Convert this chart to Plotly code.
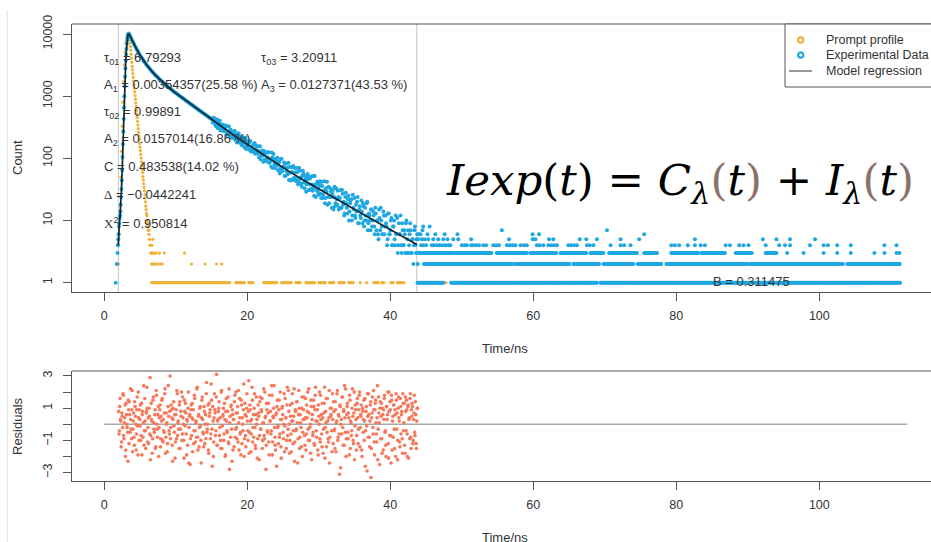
import numpy as np
import plotly.graph_objects as go

W, H = 931, 542

# ---------------- data ----------------
# Experimental data: rising edge (time ns, counts)
exp_rise_t = [1.60, 1.75, 1.85, 1.90, 1.95, 2.00, 2.05, 2.10, 2.15, 2.20, 2.25, 2.30,
              2.35, 2.40, 2.45, 2.50, 2.55, 2.60, 2.65, 2.70, 2.75, 2.80, 2.85, 2.90,
              2.95, 3.00, 3.05, 3.10, 3.15, 3.20, 3.25, 3.30, 3.35, 3.40, 3.45, 3.50]
exp_rise_counts = [1, 2, 3, 4, 5, 6, 8, 9, 11, 12, 14, 18,
                   24, 32, 44, 65, 105, 170, 270, 430, 660, 1000, 1450, 2050,
                   2800, 3700, 4700, 5800, 6900, 7900, 8800, 9500, 9950, 10150, 10050, 9750]

# Experimental data: decay, one value per time channel
exp_channel_start = 3.55
exp_channel_width = 0.15
exp_decay_counts = [
    9550, 8800, 8050, 7450, 6900, 6350, 5900, 5480, 5150, 4780, 4480, 4200, 3960, 3720,
    3500, 3330, 3140, 3000, 2860, 2740, 2600, 2480, 2380, 2270, 2180, 2100, 2010, 1930,
    1860, 1780, 1720, 1660, 1600, 1550, 1500, 1440, 1390, 1350, 1320, 1270, 1230, 1180,
    1160, 1120, 1090, 1060, 1030, 1000, 970, 940, 915, 890, 860, 840, 815, 790, 765, 745,
    725, 700, 685, 665, 645, 625, 605, 590, 575, 555, 540, 525, 510, 500, 485, 470, 455,
    445, 430,
    444, 379, 441, 342, 372, 308, 372, 401, 317, 282,
    344, 297, 310, 238, 328, 251, 263, 291, 215, 251,
    213, 276, 216, 180, 235, 211, 176, 227, 176, 203,
    151, 216, 169, 148, 176, 184, 129, 157, 138, 173,
    119, 152, 120, 130, 157, 97, 127, 110, 131, 96,
    122, 97, 124, 85, 99, 73, 102, 118, 82, 70,
    99, 78, 86, 57, 98, 65, 71, 86, 52, 70,
    55, 85, 58, 44, 71, 60, 45, 70, 47, 60,
    38, 70, 47, 39, 52, 57, 33, 46, 38, 56,
    31, 47, 32, 38, 52, 25, 38, 31, 42, 26,
    39, 27, 42, 23, 30, 19, 33, 42, 24, 19,
    33, 24, 27, 15, 35, 19, 22, 30, 15, 23,
    16, 31, 18, 12, 24, 19, 13, 25, 14, 21,
    10, 26, 15, 12, 18, 20, 9, 15, 12, 21,
    9, 17, 10, 12, 19, 7, 13, 10, 15, 8,
    14, 8, 16, 7, 10, 5, 11, 16, 8, 6,
    12, 8, 9, 4, 13, 6, 7, 11, 4, 8,
    5, 12, 6, 3, 9, 6, 4, 9, 4, 7,
    3, 10, 5, 3, 6, 7, 3, 5, 4, 8,
    3, 6, 3]

# second (interleaved) set of decay channels in the noisy part of the curve
exp_channel_start_b = 15.175
exp_decay_counts_b = [
    378, 440, 388, 327, 420, 341, 373, 281, 342, 351,
    275, 299, 337, 258, 270, 324, 220, 274, 233, 250,
    272, 198, 243, 205, 254, 186, 205, 162, 216, 177,
    192, 141, 191, 166, 138, 190, 140, 157, 127, 175,
    124, 158, 133, 104, 155, 114, 134, 88, 120, 127,
    90, 103, 125, 85, 92, 124, 70, 99, 79, 89,
    102, 64, 89, 70, 99, 62, 74, 52, 82, 62,
    71, 45, 73, 60, 46, 75, 49, 59, 43, 70,
    43, 63, 49, 35, 63, 41, 52, 29, 46, 51,
    31, 38, 51, 30, 34, 52, 24, 39, 29, 35,
    43, 23, 36, 26, 43, 23, 29, 18, 35, 24,
    29, 16, 31, 24, 17, 33, 18, 24, 16, 31,
    16, 27, 20, 13, 28, 16, 22, 10, 19, 22,
    12, 16, 23, 11, 14, 24, 9, 17, 11, 14,
    19, 8, 16, 10, 20, 9, 12, 7, 15, 10,
    12, 6, 13, 10, 6, 15, 7, 10, 6, 14,
    6, 12, 8, 5, 13, 6, 10, 4, 8, 10,
    4, 6, 11, 4, 6, 12, 3, 7, 4, 6,
    9, 3, 7, 4, 9, 3, 5, 2, 7, 4,
    5, 2, 6]

# Experimental data after the fit window: rows of low integer counts
row_channel_width = 0.15
exp_level1_runs = [(43.8, 47.4), (48.5, 68.9), (69.4, 90.4), (90.9, 111.3)]
exp_level2_runs = [(44.7, 57.0), (57.4, 65.1), (65.6, 69.3), (69.8, 74.1), (74.6, 77.9),
                   (78.6, 90.0), (90.4, 103.4), (103.9, 111.3)]
exp_level3_runs = [(44.1, 48.9), (49.2, 54.2), (54.9, 59.1), (59.6, 63.3), (63.8, 67.5),
                   (68.0, 69.8), (70.6, 74.5), (75.5, 77.4), (79.3, 83.1), (83.5, 86.9),
                   (88.3, 90.6), (92.5, 94.0)]
exp_level3_t = [95.5, 97.8, 100.6, 102.5, 104.4, 107.7, 109.1, 110.8, 111.2]
exp_level4_t = [44.3, 44.6, 45.0, 45.8, 46.1, 46.5, 46.9, 47.3, 47.7, 48.1, 48.4, 50.0,
                50.4, 50.7, 51.3, 51.6, 52.0, 52.4, 53.0, 53.4, 54.4, 54.8, 55.2, 56.3,
                56.7, 57.1, 57.5, 58.2, 58.7, 59.1, 60.5, 60.9, 61.4, 62.1, 62.5, 62.9,
                63.3, 64.9, 65.3, 65.7, 66.1, 67.5, 67.9, 68.4, 70.8, 72.2, 72.7, 73.6,
                79.3, 79.8, 80.4, 81.6, 82.6, 83.4, 84.0, 86.9, 87.5, 88.8, 89.4, 90.1,
                92.5, 94.4, 95.2, 95.9, 98.7, 100.6, 101.2, 102.5, 104.4, 109.1, 110.8]
exp_level5_t = [43.9, 44.4, 44.8, 45.3, 46.0, 46.7, 47.4, 48.0, 48.8, 49.5, 51.3, 56.6,
                59.9, 60.3, 62.2, 62.8, 66.5, 67.4, 68.9, 72.2, 74.8, 82.6, 92.1, 94.0,
                95.9, 99.4]
exp_level6_t = [44.2, 45.2, 46.3, 47.6, 49.4, 59.9, 60.8, 75.5]
exp_level7_t = [44.5, 55.6, 70.3]
exp_level8_t = [44.6, 45.5]

# Prompt profile (time ns, counts)
prompt_t = [2.0, 2.1, 2.2, 2.3, 2.4, 2.5, 2.6, 2.7, 2.8, 2.9, 3.0, 3.1, 3.2, 3.3, 3.35, 3.40,
            3.45, 3.50, 3.55, 3.60, 3.65, 3.70, 3.75, 3.80, 3.85, 3.90, 3.95, 4.00, 4.05,
            4.10, 4.15, 4.20, 4.25, 4.30, 4.35, 4.40, 4.45, 4.50, 4.55, 4.60, 4.65, 4.70,
            4.75, 4.80, 4.85, 4.90, 4.95, 5.00, 5.05, 5.10, 5.15, 5.20, 5.25, 5.30, 5.35,
            5.40, 5.45, 5.50, 5.55, 5.60, 5.65, 5.70, 5.75, 5.80, 5.85, 5.90, 5.95, 6.00,
            6.05, 6.10, 6.15, 6.20, 6.25, 6.30, 6.35, 6.40, 6.45, 6.50]
prompt_counts = [2, 6, 18, 50, 130, 330, 800, 1700, 3200, 5200, 7200, 8700, 9600, 9950, 10050, 10000,
                 9660, 9020, 8130, 7240, 6310, 5500, 4730, 4070, 3510, 3020, 2640, 2300, 2010,
                 1750, 1530, 1340, 1170, 1020, 889, 776, 678, 592, 516, 451, 394, 344,
                 300, 262, 229, 200, 174, 152, 133, 116, 101, 88, 77, 67, 59,
                 51, 45, 39, 34, 30, 26, 23, 20, 17, 15, 13, 12, 10,
                 9, 8, 7, 7, 6, 5, 5, 4, 4, 3]
prompt_low_t = [6.55, 6.60, 6.65, 6.70, 6.75, 6.80, 6.85, 6.90, 7.00, 7.05, 7.15, 7.25,
                7.40, 7.55, 7.70, 7.90, 8.10, 8.40, 11.2, 12.2, 14.1, 15.7, 16.4]
prompt_low_counts = [3, 2, 4, 3, 2, 5, 3, 2, 3, 2, 2, 3,
                     2, 2, 3, 2, 2, 3, 3, 2, 2, 2, 2]
prompt_level1_runs = [(6.6, 17.6), (18.4, 19.6), (20.2, 20.9), (22.3, 24.2), (24.8, 26.2),
                      (26.8, 27.5), (28.2, 29.4), (30.0, 30.9), (31.5, 32.1), (32.8, 33.6),
                      (34.2, 34.9), (37.7, 38.3), (38.8, 39.1), (40.1, 40.5), (41.0, 41.9)]
prompt_level1_t = [35.8, 36.7, 47.8]

# Model regression curve (time ns, counts)
model_t = [1.96, 2.0, 2.1, 2.2, 2.3, 2.4, 2.5, 2.6, 2.7, 2.8, 2.9, 3.0, 3.1, 3.2, 3.3, 3.4,
           3.5, 3.6, 3.8, 4.0, 4.5, 5.0, 5.5, 6.0, 7.0, 8.0, 9.0, 10.0, 11.0, 12.0, 13.0,
           14.0, 15.0, 16.0, 17.0, 18.0, 19.0, 20.0, 22.0, 24.0, 26.0, 28.0, 30.0, 32.0,
           34.0, 36.0, 38.0, 40.0, 42.0, 43.7]
model_counts = [4, 6, 9, 12, 18, 32, 65, 170, 430, 1000, 2050, 3700, 5800, 7900, 9500, 10150,
                9800, 9330, 8320, 7413, 5754, 4571, 3715, 3090, 2265, 1738, 1380, 1122, 923, 759, 624,
                509, 417, 347, 288, 240, 200, 168, 119, 84, 60, 43.7, 32, 23.7,
                17.6, 13, 9.7, 7.2, 5.3, 4.1]

# Residuals: two interleaved sets, one per 0.1 ns channel
resid_step = 0.1
resid_start_a = 2.0
residuals_a = [
    0.8, -0.4, 1.6, 0.2, -1.1, 0.5, 1.9, -0.7, 0.1, 1.2, -1.6, 0.6, -0.2, -2.3, 0.9, 1.4, -0.5, 0.3, -0.9, 2.1,
    -0.3, 0.7, -1.3, 1.1, 0.0, -0.6, 1.7, -1.9, 0.4, 0.9, -0.1, -1.0, 1.3, 0.6, -0.8, 2.4, -0.4, 0.2, -1.5, 0.8,
    1.0, -0.2, -1.2, 0.5, 2.9, -0.7, 0.3, -1.8, 1.5, 0.1, -0.5, 0.9, -1.4, 1.8, -0.3, 0.6, -2.0, 0.4, 1.2, -0.9,
    0.2, 1.6, -1.1, -0.4, 0.7, 2.2, -0.8, 0.0, -1.7, 1.1, 0.5, -0.6, 3.0, -0.2, 0.9, -1.3, 0.3, 1.4, -0.5, -2.1,
    0.6, -0.9, 1.9, 0.1, -0.3, 1.2, -1.5, 0.8, 2.0, -0.6, 0.4, -1.0, 1.5, -0.1, 0.7, -1.9, 0.2, 1.0, -2.4, 0.5,
    -2.5, 0.9, -0.7, 1.3, 0.3, -1.2, 1.8, -0.4, 0.1, -0.8, 2.3, -1.6, 0.6, -0.2, 1.1, -1.0, 0.4, 1.7, -0.5, -1.4,
    0.8, 0.0, -0.9, 2.6, -0.3, 1.2, -1.8, 0.5, 0.9, -0.6, 1.5, -2.6, 0.2, -1.1, 1.9, 0.7, -0.4, 3.1, -1.3, 0.3,
    1.0, -0.7, 0.4, -1.5, 2.1, -0.1, 0.6, -1.0, 1.3, -2.0, 0.8, 0.2, -0.5, 1.7, -1.2, -2.8, 0.5, 1.1, -0.3, 0.9,
    -1.6, 0.3, 1.4, -0.8, 2.0, -0.2, 0.7, -1.1, 0.1, 1.6, -0.6, -1.9, 1.2, 0.4, -0.4, 2.5, -0.9, 0.6, -1.4, 1.0,
    0.2, -1.0, 2.7, -0.5, 0.9, -1.7, 0.3, 1.5, -0.2, -0.8, 1.9, -1.3, 0.6, 0.0, -2.1, 1.2, 0.5, -0.7, 1.7, -0.3,
    0.8, -1.5, 0.1, 2.2, -0.9, 0.4, -2.8, 1.3, -0.4, 0.7, -1.1, 1.8, 0.2, -0.6, 2.4, -1.9, 0.5, 1.0, -0.2, -1.3,
    0.6, -2.6, 1.5, -0.1, 0.9, -0.8, 2.0, -1.4, 0.3, 1.1, -0.5, 0.0, -1.7, 1.6, 0.4, -1.0, 2.3, -0.3, 0.8, -1.8,
    1.2, -0.6, 0.2, 1.9, -1.2, 0.5, -2.3, 0.9, -0.4, 1.4, 0.1, -0.9, 2.1, -1.5, 0.6, -0.2, 1.0, -2.0, 0.3, 1.7,
    -0.7, 0.4, -1.6, 1.2, 0.8, -0.3, 2.2, -1.0, 0.0, 1.5, -2.2, 0.6, -0.5, 1.1, -1.3, 1.8, 0.2, -0.8, 0.9, -1.9,
    0.5, 2.0, -1.1, 0.3, -0.6, 1.3, -1.8, 0.7, 2.3, -0.2, 0.1, -1.4, 1.6, -0.9, 0.4, -2.4, 1.0, 0.6, -0.4, 1.9,
    -1.2, 0.8, -0.3, 1.4, -1.7, 0.2, 2.1, -0.8, 0.5, -3.1, 1.1, 0.0, -0.6, 1.7, -1.3, 0.9, 2.4, -0.5, -2.0, 0.6,
    1.3, -0.9, 0.4, 1.8, -1.5, 0.1, -0.4, 2.2, -1.0, 0.7, -2.2, 1.2, 0.3, -0.7, 1.6, -1.2, 0.9, 2.0, -0.2, 0.5,
    -1.6, 1.0, -0.5, 1.5, 0.2, -2.6, 0.8, -0.1, 1.9, -0.8, 0.6, -1.4, 1.2, -3.3, 0.4, 1.7, -0.6, 0.9, -1.9, 1.3,
    0.1, -1.1, 2.4, -0.3, 0.7, -2.5, 1.4, 0.5, -0.9, 1.0, -1.6, 0.3, 1.8, -0.4, -2.0, 1.1, 0.6, -1.2, 2.0, -0.7,
    0.9, -2.4, 1.5, 0.2, -0.8, 1.2, -1.5, 0.6, 1.9, -0.3, -2.2, 1.0, 0.4, -1.1, 1.6, -0.6, 0.8, -1.8, 1.3, 0.1,
    -1.3, 1.7, -0.4, 0.9, -2.0, 1.2, 0.3, -0.9, 1.9, -1.5, 0.5, 1.1, -1.0, 0.7, -0.5, 1.4, -1.2, 0.2, 1.0]
resid_start_b = 2.05
residuals_b = [
    -0.6, 1.1, 0.3, -1.4, 0.7, -0.2, 1.8, -0.9, 0.4, -2.0, 1.3, 0.0, -0.5, 1.5, -1.2, 0.6, 2.2, -0.3, 0.9, -1.7,
    0.2, -0.8, 1.4, 0.5, -1.6, 0.9, -0.1, 2.0, -1.0, 0.3, 1.2, -0.7, -1.9, 0.8, 0.1, -1.3, 1.6, -0.4, 0.7, 2.3,
    -1.1, 0.4, 1.0, -0.6, -2.2, 1.3, 0.2, -0.9, 1.7, -0.3, 0.6, -1.5, 2.1, 0.0, -0.8, 1.1, -0.2, 0.9, -1.4, 0.5,
    1.5, -1.0, 0.3, -0.5, 1.9, -1.8, 0.7, 0.1, -1.2, 2.4, -0.4, 0.8, -0.9, 1.2, 0.4, -2.3, 1.0, -0.1, 0.6, -1.1,
    0.9, 2.1, -0.7, 0.2, -1.5, 1.4, -0.3, 0.5, -1.0, 1.7, 0.0, -2.1, 0.8, 1.3, -0.6, 0.3, -1.3, 2.0, -0.2, 0.6,
    -0.9, 1.2, 0.4, -1.7, 0.9, -0.4, 1.6, -1.1, 0.2, 2.2, -0.8, 0.5, -1.4, 1.0, -0.1, -2.4, 1.5, 0.3, -0.6, 1.1,
    -1.2, 0.6, 1.9, -0.5, 0.0, -1.6, 1.3, 0.7, -0.9, 2.5, -0.3, 1.1, -2.0, 0.4, 0.9, -0.7, 1.7, -1.3, 0.2, 0.8,
    1.4, -0.2, -1.0, 2.0, -1.5, 0.5, 1.0, -0.6, 0.3, -1.9, 1.6, -0.4, 0.8, -1.1, 2.2, 0.1, -0.8, 1.2, -2.3, 0.6,
    0.3, -1.4, 1.8, -0.3, 0.7, -0.9, 1.1, 2.1, -1.6, 0.4, -0.5, 1.5, -1.2, 0.0, 0.9, -2.0, 1.3, -0.7, 0.5, 1.9,
    -0.4, 0.8, -1.8, 1.2, 0.2, -0.6, 2.3, -1.1, 0.6, 1.0, -0.2, -1.5, 1.7, 0.3, -0.9, 0.7, -2.2, 1.4, -0.3, 0.9,
    1.6, -1.0, 0.1, -0.7, 2.0, 0.5, -1.3, 0.9, -0.5, 1.3, -1.9, 0.2, 0.8, -0.4, 1.8, -1.1, 0.4, 2.4, -0.8, -1.6,
    0.7, 1.1, -0.2, -1.2, 1.5, -0.6, 0.3, -2.1, 1.0, 0.6, -0.9, 1.9, -0.1, 0.4, -1.5, 1.2, -0.7, 2.1, 0.0, -1.0,
    0.5, -1.7, 1.3, 0.2, -0.4, 2.2, -1.1, 0.8, -0.3, 1.4, -2.4, 0.6, 1.0, -0.8, 0.1, -1.4, 1.7, -0.5, 0.9, 0.3,
    -1.3, 1.6, -0.6, 0.4, 2.0, -1.0, 0.7, -0.2, -1.8, 1.1, 0.3, -0.7, 1.5, -1.2, 0.9, 2.3, -0.4, 0.2, -1.6, 1.2,
    0.0, -0.9, 1.8, 0.6, -1.4, 0.4, -0.3, 1.3, -2.1, 0.8, 1.6, -0.5, 0.2, -1.1, 2.1, -0.8, 0.5, 1.0, -1.7, 0.3,
    1.4, -0.4, -1.5, 0.9, 0.1, 1.9, -1.0, 0.6, -0.6, 1.2, -2.7, 0.3, 1.7, -0.2, 0.8, -1.3, 0.4, 2.2, -0.9, 1.1,
    -0.5, 0.7, -1.9, 1.5, 0.2, -0.7, 1.0, 0.5, -1.2, 2.0, -0.1, 0.9, -1.6, 1.3, 0.4, -0.3, 1.8, -1.4, 0.6, 1.2,
    -2.0, 0.8, 0.3, -1.0, 1.6, -0.4, 1.1, -2.9, 0.5, 1.9, -0.8, 0.2, 1.4, -1.5, 0.7, -0.2, 2.1, -1.1, 0.9, 1.5,
    -0.6, 0.4, -2.2, 1.7, 0.1, 1.0, -0.9, 1.3, -1.8, 0.6, 0.9, 1.6, -0.5, -1.3, 1.1, 0.3, 2.0, -2.1, 0.8, 1.4,
    -0.7, 1.8, -1.6, 0.5, 1.2, -0.3, 0.9, -2.0, 1.5, 0.7, -1.0, 1.7, 0.2, -1.4, 1.1, 0.6, -0.9, 1.9, -0.4, 1.3,
    -1.8, 0.8, 1.5, -0.6, 1.1, -2.1, 0.4, 1.6, -0.8, 0.9, 1.3, -1.2, 0.3, 1.8, -0.7, 0.6, -1.5, 1.0]

fit_window = [1.96, 43.7]
resid_zero_span = [0.0, 112.3]
x_ticks = [0, 20, 40, 60, 80, 100]
count_ticks = [1, 10, 100, 1000, 10000]
count_tick_text = ["1", "10", "100", "1000", "10000"]
resid_ticks = [-3, -1, 1, 3]
resid_tick_text = ["\u22123", "\u22121", "1", "3"]
resid_minor_ticks = [-2, 0, 2]

stats_text = [
    ("left", 0, "\u03c4<sub>01</sub> = 6.79293"),
    ("right", 0, "\u03c4<sub>03</sub> = 3.20911"),
    ("left", 1, "A<sub>1</sub> = 0.00354357(25.58 %)"),
    ("right", 1, "A<sub>3</sub> = 0.0127371(43.53 %)"),
    ("left", 2, "\u03c4<sub>02</sub> = 0.99891"),
    ("left", 3, "A<sub>2</sub> = 0.0157014(16.86 %)"),
    ("left", 4, "C = 0.483538(14.02 %)"),
    ("left", 5, "<span style='font-family:Liberation Serif'>\u0394</span> = \u22120.0442241"),
    ("left", 6, "<span style='font-family:Liberation Serif'>\u03a7</span><sup>2</sup> = 0.950814"),
]
baseline_label = "B = 0.311475"
legend_labels = ["Prompt profile", "Experimental Data", "Model regression"]

# ---------------- colours / fonts ----------------
C_EXP = "#1ea7e1"
C_PROMPT = "#efb237"
C_RESID = "#f7795b"
C_LINE = "#0f2631"
C_AXIS = "#555555"
C_TEXT = "#333333"
FONT = "Liberation Sans"


def expand_runs(runs, step):
    out = []
    for a, b in runs:
        out.extend(np.arange(a, b + 1e-9, step).tolist())
    return out


def px(x):
    return x / W


def py(y):
    return 1 - y / H


# build point sets
exp_decay_t = (exp_channel_start + exp_channel_width * np.arange(len(exp_decay_counts))).tolist()
exp_decay_t_b = (exp_channel_start_b + exp_channel_width * np.arange(len(exp_decay_counts_b))).tolist()
tail_t, tail_c = [], []
for lvl, runs in [(1, exp_level1_runs), (2, exp_level2_runs), (3, exp_level3_runs)]:
    tt = expand_runs(runs, row_channel_width)
    tail_t += tt
    tail_c += [lvl] * len(tt)
for lvl, tt in [(3, exp_level3_t), (4, exp_level4_t), (5, exp_level5_t), (6, exp_level6_t),
                (7, exp_level7_t), (8, exp_level8_t)]:
    tail_t += tt
    tail_c += [lvl] * len(tt)
exp_x = exp_rise_t + exp_decay_t + exp_decay_t_b + tail_t
exp_y = exp_rise_counts + exp_decay_counts + exp_decay_counts_b + tail_c

pl1 = expand_runs(prompt_level1_runs, row_channel_width) + prompt_level1_t
prompt_x = prompt_t + prompt_low_t + pl1
prompt_y = prompt_counts + prompt_low_counts + [1] * len(pl1)

resid_x = ((resid_start_a + resid_step * np.arange(len(residuals_a))).tolist()
           + (resid_start_b + resid_step * np.arange(len(residuals_b))).tolist())
resid_y = residuals_a + residuals_b

fig = go.Figure()
fig.add_trace(go.Scatter(x=prompt_x, y=prompt_y, mode="markers", xaxis="x", yaxis="y",
                         marker=dict(color=C_PROMPT, size=3.2, line=dict(width=0)),
                         name=legend_labels[0]))
fig.add_trace(go.Scatter(x=exp_x, y=exp_y, mode="markers", xaxis="x", yaxis="y",
                         marker=dict(color=C_EXP, size=4, line=dict(width=0)),
                         name=legend_labels[1]))
fig.add_trace(go.Scatter(x=model_t, y=model_counts, mode="lines", xaxis="x", yaxis="y",
                         line=dict(color=C_LINE, width=1.7), name=legend_labels[2]))
fig.add_trace(go.Scatter(x=resid_zero_span, y=[0, 0], mode="lines", xaxis="x2", yaxis="y2",
                         line=dict(color="#a8a8a8", width=1.5), showlegend=False))
fig.add_trace(go.Scatter(x=resid_x, y=resid_y, mode="markers", xaxis="x2", yaxis="y2",
                         marker=dict(color=C_RESID, size=3.6, line=dict(width=0)),
                         showlegend=False))

tickfont = dict(family=FONT, size=12.5, color=C_TEXT)
xcommon = dict(range=[-4.52, 115.62], tickvals=x_ticks, ticks="outside", ticklen=8,
               tickcolor=C_AXIS, tickwidth=1, showline=True, linecolor=C_AXIS, linewidth=1,
               showgrid=False, zeroline=False, tickfont=tickfont, ticklabelstandoff=4,
               automargin=False)
ycommon = dict(tickangle=-90, ticks="outside", ticklen=8, tickcolor=C_AXIS, showline=True,
               linecolor=C_AXIS, linewidth=1, showgrid=False, zeroline=False,
               tickfont=tickfont, ticklabelstandoff=6, automargin=False)
fig.update_layout(
    width=W, height=H, margin=dict(l=0, r=0, t=0, b=0, autoexpand=False),
    paper_bgcolor="white", plot_bgcolor="white", showlegend=False,
    xaxis=dict(domain=[px(72), 1], anchor="y", **xcommon),
    yaxis=dict(domain=[py(292), py(24)], anchor="x", type="log", range=[-0.1496, 4.161],
               tickvals=count_ticks, ticktext=count_tick_text, **ycommon),
    xaxis2=dict(domain=[px(72), 1], anchor="y2", **xcommon),
    yaxis2=dict(domain=[py(481), py(371)], anchor="x2", range=[-3.52, 3.31],
                tickvals=resid_ticks, ticktext=resid_tick_text,
                minor=dict(tickvals=resid_minor_ticks, ticks="outside", ticklen=8,
                           tickcolor=C_AXIS, showgrid=False),
                **ycommon),
)

shapes = []
# top edges of both boxes
for ytop in (24, 371):
    shapes.append(dict(type="line", xref="paper", yref="paper", x0=px(72), x1=1.02,
                       y0=py(ytop), y1=py(ytop), line=dict(color=C_AXIS, width=1)))
# fit window lines
for xv in fit_window:
    shapes.append(dict(type="line", xref="x", yref="y domain", x0=xv, x1=xv, y0=0, y1=1,
                       line=dict(color="#c4c4c4", width=1), layer="below"))
# faint frame line at the far left
shapes.append(dict(type="line", xref="paper", yref="paper", x0=px(7.3), x1=px(7.3),
                   y0=py(10), y1=0, line=dict(color="#e2e2e2", width=1)))
# legend box
shapes.append(dict(type="rect", xref="paper", yref="paper", x0=px(785), x1=1.05,
                   y0=py(87), y1=py(24), line=dict(color=C_AXIS, width=1),
                   fillcolor="white", layer="above"))
for cy, col in [(40, C_PROMPT), (55, C_EXP)]:
    r = 2.6
    shapes.append(dict(type="circle", xref="paper", yref="paper",
                       x0=px(800.7 - r), x1=px(800.7 + r), y0=py(cy + r), y1=py(cy - r),
                       line=dict(color=col, width=2.2), fillcolor="white"))
shapes.append(dict(type="line", xref="paper", yref="paper", x0=px(789), x1=px(812),
                   y0=py(71), y1=py(71), line=dict(color=C_TEXT, width=1)))
fig.update_layout(shapes=shapes)

ann = []
row_y = [58, 86, 113, 139.5, 167, 194, 223]
for col, row, txt in stats_text:
    ann.append(dict(text=txt, xref="paper", yref="paper",
                    x=px(101.7 if col == "left" else 259), y=py(row_y[row]),
                    xanchor="left", yanchor="middle", showarrow=False,
                    font=dict(family=FONT, size=13, color=C_TEXT)))
ann.append(dict(text=baseline_label, xref="paper", yref="paper", x=px(751), y=py(282),
                xanchor="center", yanchor="middle", showarrow=False,
                font=dict(family=FONT, size=13, color=C_TEXT)))
for lab, cy in zip(legend_labels, [40, 55, 71]):
    ann.append(dict(text=lab, xref="paper", yref="paper", x=px(824), y=py(cy),
                    xanchor="left", yanchor="middle", showarrow=False,
                    font=dict(family=FONT, size=12.5, color=C_TEXT)))
br = "#8c706a"
formula = ("<i>Iexp</i>(<i>t</i>) = <i>C</i><sub><i>\u03bb</i></sub>"
           f"<span style='color:{br}'>(</span><i>t</i><span style='color:{br}'>)</span> + "
           "<i>I</i><sub><i>\u03bb</i></sub>"
           f"<span style='color:{br}'>(</span><i>t</i><span style='color:{br}'>)</span>")
ann.append(dict(text=formula, xref="paper", yref="paper", x=px(680), y=py(183),
                xanchor="center", yanchor="middle", showarrow=False,
                font=dict(family="DejaVu Serif", size=43.5, color="black")))
for txt, x, y, ang in [("Count", 17, 158, -90), ("Residuals", 17, 426, -90),
                       ("Time/ns", 505, 348.7, 0), ("Time/ns", 505, 537.5, 0)]:
    ann.append(dict(text=txt, xref="paper", yref="paper", x=px(x), y=py(y),
                    xanchor="center", yanchor="middle", showarrow=False, textangle=ang,
                    font=dict(family=FONT, size=13, color=C_TEXT)))
fig.update_layout(annotations=ann)

fig.write_html("out.html")
